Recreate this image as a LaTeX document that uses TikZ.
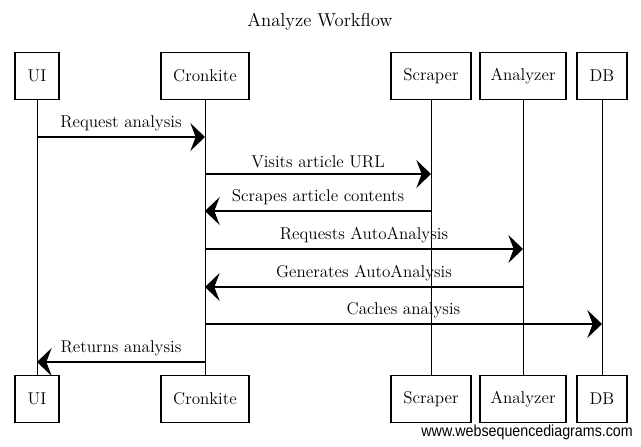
\documentclass[tikz,border=0pt]{standalone}
\usepackage{fontspec}
\usepackage{tikz}
\usetikzlibrary{arrows.meta}
\newfontfamily\wsdfont{Liberation Sans}
\newcommand\lblfont{\fontsize{12.8}{15}\selectfont}

\begin{document}
\begin{tikzpicture}[x=0.75pt,y=-0.75pt,
    actor/.style={draw, line width=1pt, minimum height=35pt, inner sep=0pt, font=\lblfont},
    life/.style={line width=0.6pt},
    msg/.style={line width=1.1pt, -{Stealth[length=11pt,width=21pt,inset=4pt]}},
    lbl/.style={above=1pt, font=\lblfont}]
    \useasboundingbox (0,0) rectangle (641,446);
    \node[font=\fontsize{14}{16}\selectfont] (title) at (320,22) {Analyze Workflow};

    % participants, top and bottom
    \node[actor, minimum width=33pt] (ui) at (37,76) {UI};
    \node[actor, minimum width=66pt] (cr) at (205,76) {Cronkite};
    \node[actor, minimum width=60pt] (sc) at (431,76) {Scraper};
    \node[actor, minimum width=64.5pt] (an) at (523,76) {Analyzer};
    \node[actor, minimum width=37.5pt] (db) at (602,76) {DB};
    \node[actor, minimum width=33pt] (uib) at (37,399) {UI};
    \node[actor, minimum width=66pt] (crb) at (205,399) {Cronkite};
    \node[actor, minimum width=60pt] (scb) at (431,399) {Scraper};
    \node[actor, minimum width=64.5pt] (anb) at (523,399) {Analyzer};
    \node[actor, minimum width=37.5pt] (dbb) at (602,399) {DB};

    % lifelines
    \draw[life] (ui) -- (uib);
    \draw[life] (cr) -- (crb);
    \draw[life] (sc) -- (scb);
    \draw[life] (an) -- (anb);
    \draw[life] (db) -- (dbb);

    % messages
    \coordinate (m1) at (0,137);
    \coordinate (m2) at (0,174);
    \coordinate (m3) at (0,211);
    \coordinate (m4) at (0,249);
    \coordinate (m5) at (0,287);
    \coordinate (m6) at (0,324);
    \coordinate (m7) at (0,362);
    \draw[msg] (ui |- m1) -- (cr |- m1) node[midway,lbl] {Request analysis};
    \draw[msg] (cr |- m2) -- (sc |- m2) node[midway,lbl] {Visits article URL};
    \draw[msg] (sc |- m3) -- (cr |- m3) node[midway,lbl] {Scrapes article contents};
    \draw[msg] (cr |- m4) -- (an |- m4) node[midway,lbl] {Requests AutoAnalysis};
    \draw[msg] (an |- m5) -- (cr |- m5) node[midway,lbl] {Generates AutoAnalysis};
    \draw[msg] (cr |- m6) -- (db |- m6) node[midway,lbl] {Caches analysis};
    \draw[msg] (cr |- m7) -- (ui |- m7) node[midway,lbl] {Returns analysis};

    \node[font=\wsdfont\fontsize{12}{14}\selectfont, anchor=east, inner sep=0pt, xscale=0.89] (credit) at (633,432) {www.websequencediagrams.com};
\end{tikzpicture}
\end{document}
